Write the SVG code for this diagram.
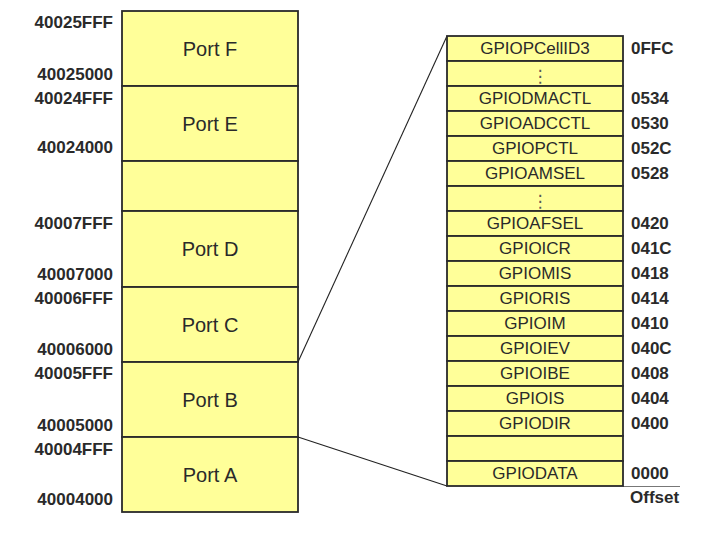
<svg xmlns="http://www.w3.org/2000/svg" width="701" height="535" viewBox="0 0 701 535">
<style>
.blk{fill:#FFFF99;stroke:#2a2a2a;stroke-width:1.8}
.port{font-family:"Liberation Sans",Arial,sans-serif;font-size:20px;fill:#2a2a2a;text-anchor:middle}
.addr{font-family:"Liberation Sans",Arial,sans-serif;font-size:17px;font-weight:bold;fill:#2a2a2a;text-anchor:end}
.reg{font-family:"Liberation Sans",Arial,sans-serif;font-size:17px;fill:#2a2a2a;text-anchor:middle}
.off{font-family:"Liberation Sans",Arial,sans-serif;font-size:17px;font-weight:bold;fill:#2a2a2a;text-anchor:start}
.dots{font-family:"DejaVu Sans",sans-serif;font-size:17px;fill:#555;text-anchor:middle}
.conn{stroke:#222;stroke-width:1.1;fill:none}
</style>
<rect width="701" height="535" fill="#fff"/>
<g id="memory-map">
<g id="port-f"><rect class="blk" x="122" y="11" width="176" height="75"/><text class="port" x="210" y="55.5">Port F</text></g>
<g id="port-e"><rect class="blk" x="122" y="86" width="176" height="75"/><text class="port" x="210" y="130.5">Port E</text></g>
<g id="gap"><rect class="blk" x="122" y="161" width="176" height="50"/></g>
<g id="port-d"><rect class="blk" x="122" y="211" width="176" height="76"/><text class="port" x="210" y="256">Port D</text></g>
<g id="port-c"><rect class="blk" x="122" y="287" width="176" height="75"/><text class="port" x="210" y="331.5">Port C</text></g>
<g id="port-b"><rect class="blk" x="122" y="362" width="176" height="75"/><text class="port" x="210" y="406.5">Port B</text></g>
<g id="port-a"><rect class="blk" x="122" y="437" width="176" height="75"/><text class="port" x="210" y="481.5">Port A</text></g>
</g>
<g id="addresses">
<text class="addr" x="113" y="28">40025FFF</text>
<text class="addr" x="113" y="80">40025000</text>
<text class="addr" x="113" y="104">40024FFF</text>
<text class="addr" x="113" y="153">40024000</text>
<text class="addr" x="113" y="229">40007FFF</text>
<text class="addr" x="113" y="280">40007000</text>
<text class="addr" x="113" y="304">40006FFF</text>
<text class="addr" x="113" y="355">40006000</text>
<text class="addr" x="113" y="379">40005FFF</text>
<text class="addr" x="113" y="431">40005000</text>
<text class="addr" x="113" y="455">40004FFF</text>
<text class="addr" x="113" y="505">40004000</text>
</g>
<g id="connectors">
<line class="conn" x1="298" y1="362" x2="447" y2="36"/>
<line class="conn" x1="298" y1="437" x2="447" y2="486"/>
<line x1="623" y1="486.5" x2="680" y2="486.5" stroke="#777" stroke-width="1.2"/>
</g>
<g id="registers">
<g id="r-pcellid3"><rect class="blk" x="447" y="36" width="176" height="25"/><text class="reg" x="535" y="53.5">GPIOPCellID3</text><text class="off" x="631" y="53.5">0FFC</text></g>
<g id="r-dots1"><rect class="blk" x="447" y="61" width="176" height="25"/><text class="dots" x="540" y="82">⋮</text></g>
<g id="r-dmactl"><rect class="blk" x="447" y="86" width="176" height="25"/><text class="reg" x="535" y="103.5">GPIODMACTL</text><text class="off" x="631" y="103.5">0534</text></g>
<g id="r-adcctl"><rect class="blk" x="447" y="111" width="176" height="25"/><text class="reg" x="535" y="128.5">GPIOADCCTL</text><text class="off" x="631" y="128.5">0530</text></g>
<g id="r-pctl"><rect class="blk" x="447" y="136" width="176" height="25"/><text class="reg" x="535" y="153.5">GPIOPCTL</text><text class="off" x="631" y="153.5">052C</text></g>
<g id="r-amsel"><rect class="blk" x="447" y="161" width="176" height="25"/><text class="reg" x="535" y="178.5">GPIOAMSEL</text><text class="off" x="631" y="178.5">0528</text></g>
<g id="r-dots2"><rect class="blk" x="447" y="186" width="176" height="25"/><text class="dots" x="540" y="207">⋮</text></g>
<g id="r-afsel"><rect class="blk" x="447" y="211" width="176" height="25"/><text class="reg" x="535" y="228.5">GPIOAFSEL</text><text class="off" x="631" y="228.5">0420</text></g>
<g id="r-icr"><rect class="blk" x="447" y="236" width="176" height="25"/><text class="reg" x="535" y="253.5">GPIOICR</text><text class="off" x="631" y="253.5">041C</text></g>
<g id="r-mis"><rect class="blk" x="447" y="261" width="176" height="25"/><text class="reg" x="535" y="278.5">GPIOMIS</text><text class="off" x="631" y="278.5">0418</text></g>
<g id="r-ris"><rect class="blk" x="447" y="286" width="176" height="25"/><text class="reg" x="535" y="303.5">GPIORIS</text><text class="off" x="631" y="303.5">0414</text></g>
<g id="r-im"><rect class="blk" x="447" y="311" width="176" height="25"/><text class="reg" x="535" y="328.5">GPIOIM</text><text class="off" x="631" y="328.5">0410</text></g>
<g id="r-iev"><rect class="blk" x="447" y="336" width="176" height="25"/><text class="reg" x="535" y="353.5">GPIOIEV</text><text class="off" x="631" y="353.5">040C</text></g>
<g id="r-ibe"><rect class="blk" x="447" y="361" width="176" height="25"/><text class="reg" x="535" y="378.5">GPIOIBE</text><text class="off" x="631" y="378.5">0408</text></g>
<g id="r-is"><rect class="blk" x="447" y="386" width="176" height="25"/><text class="reg" x="535" y="403.5">GPIOIS</text><text class="off" x="631" y="403.5">0404</text></g>
<g id="r-dir"><rect class="blk" x="447" y="411" width="176" height="25"/><text class="reg" x="535" y="428.5">GPIODIR</text><text class="off" x="631" y="428.5">0400</text></g>
<g id="r-empty"><rect class="blk" x="447" y="436" width="176" height="25"/></g>
<g id="r-data"><rect class="blk" x="447" y="461" width="176" height="25"/><text class="reg" x="535" y="478.5">GPIODATA</text><text class="off" x="631" y="478.5">0000</text></g>
</g>
<text class="off" x="630" y="503">Offset</text>
</svg>
